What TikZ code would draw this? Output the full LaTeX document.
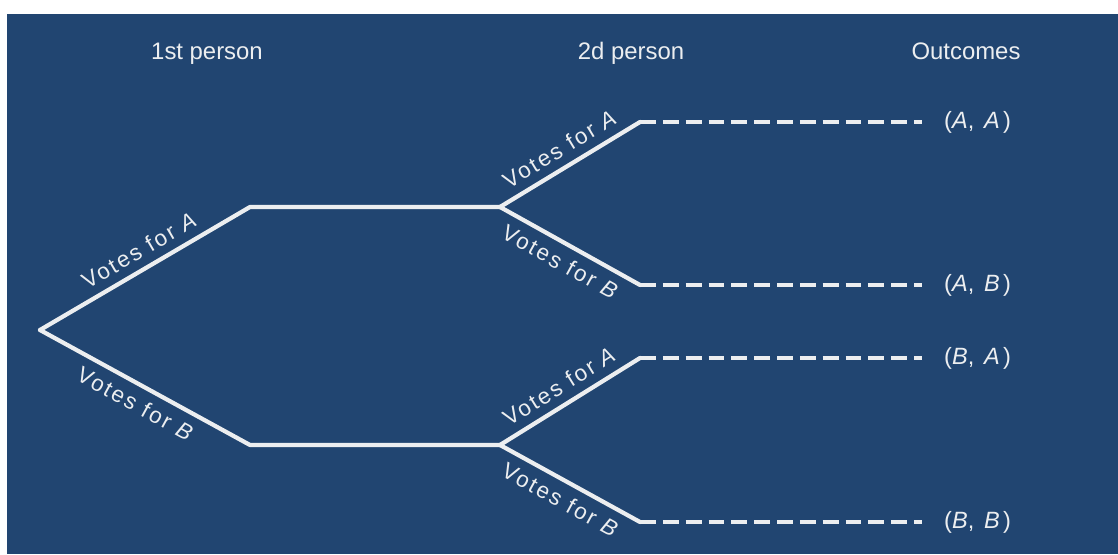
\documentclass[tikz,border=0pt]{standalone}
\usepackage{fontspec}
\setmainfont{Liberation Sans}
\newfontfamily\votefont[LetterSpace=10]{Liberation Sans}
\newfontfamily\pairfont[LetterSpace=14]{Liberation Sans}
\usetikzlibrary{positioning}
\definecolor{boardblue}{RGB}{33,69,113}
\definecolor{chalk}{RGB}{236,238,240}
\tikzset{
  branch/.style={chalk,line width=2.4pt},
  outline/.style={chalk,line width=2.4pt,dash pattern=on 9pt off 4pt,line cap=butt},
  vote/.style={sloped,text=chalk,font=\votefont\fontsize{12.8}{14}\selectfont,inner sep=3.3pt,pos=0.5},
  head/.style={text=chalk,font=\fontsize{13.6}{16}\selectfont,anchor=base},
  result/.style={text=chalk,font=\pairfont\fontsize{13.4}{15}\selectfont,anchor=west}
}
\begin{document}
\begin{tikzpicture}[line cap=round,line join=round,x=0.02cm,y=0.02cm]
\useasboundingbox (0,0) rectangle (1118,554);
\fill[boardblue] (7,0) rectangle (1118,540);
% headings
\node[head] (first) at (207,494) {1st person};
\node[head] (second) at (631,494) {2d person};
\node[head] (outcomes) at (966,494) {Outcomes};
% tree
\coordinate (root) at (40,224);
\coordinate (a) at (250,347);
\coordinate (afork) at (500,347);
\coordinate (b) at (250,109);
\coordinate (bfork) at (500,109);
\coordinate (aa) at (640,432);
\coordinate (ab) at (640,269);
\coordinate (ba) at (640,196);
\coordinate (bb) at (640,32);
\coordinate (aaend) at (922,432);
\coordinate (abend) at (922,269);
\coordinate (baend) at (922,196);
\coordinate (bbend) at (922,32);
\draw[branch] (root) -- node[vote,above=1.5pt,pos=0.52] {Votes for \textit{A}} (a) -- (afork);
\draw[branch] (root) -- node[vote,below=1.5pt,pos=0.5] {Votes for \textit{B}} (b) -- (bfork);
\draw[branch] (afork) -- node[vote,above=1.5pt] {Votes for \textit{A}} (aa);
\draw[branch] (afork) -- node[vote,below=1.5pt] {Votes for \textit{B}} (ab);
\draw[branch] (bfork) -- node[vote,above=1.5pt] {Votes for \textit{A}} (ba);
\draw[branch] (bfork) -- node[vote,below=1.5pt] {Votes for \textit{B}} (bb);
% outcomes
\draw[outline] (aa) -- (aaend);
\draw[outline] (ab) -- (abend);
\draw[outline] (ba) -- (baend);
\draw[outline] (bb) -- (bbend);
\node[result,right=0.32cm of aaend] (resaa) {(\textit{A}, \textit{A})};
\node[result,right=0.32cm of abend] (resab) {(\textit{A}, \textit{B})};
\node[result,right=0.32cm of baend] (resba) {(\textit{B}, \textit{A})};
\node[result,right=0.32cm of bbend] (resbb) {(\textit{B}, \textit{B})};
\end{tikzpicture}
\end{document}
